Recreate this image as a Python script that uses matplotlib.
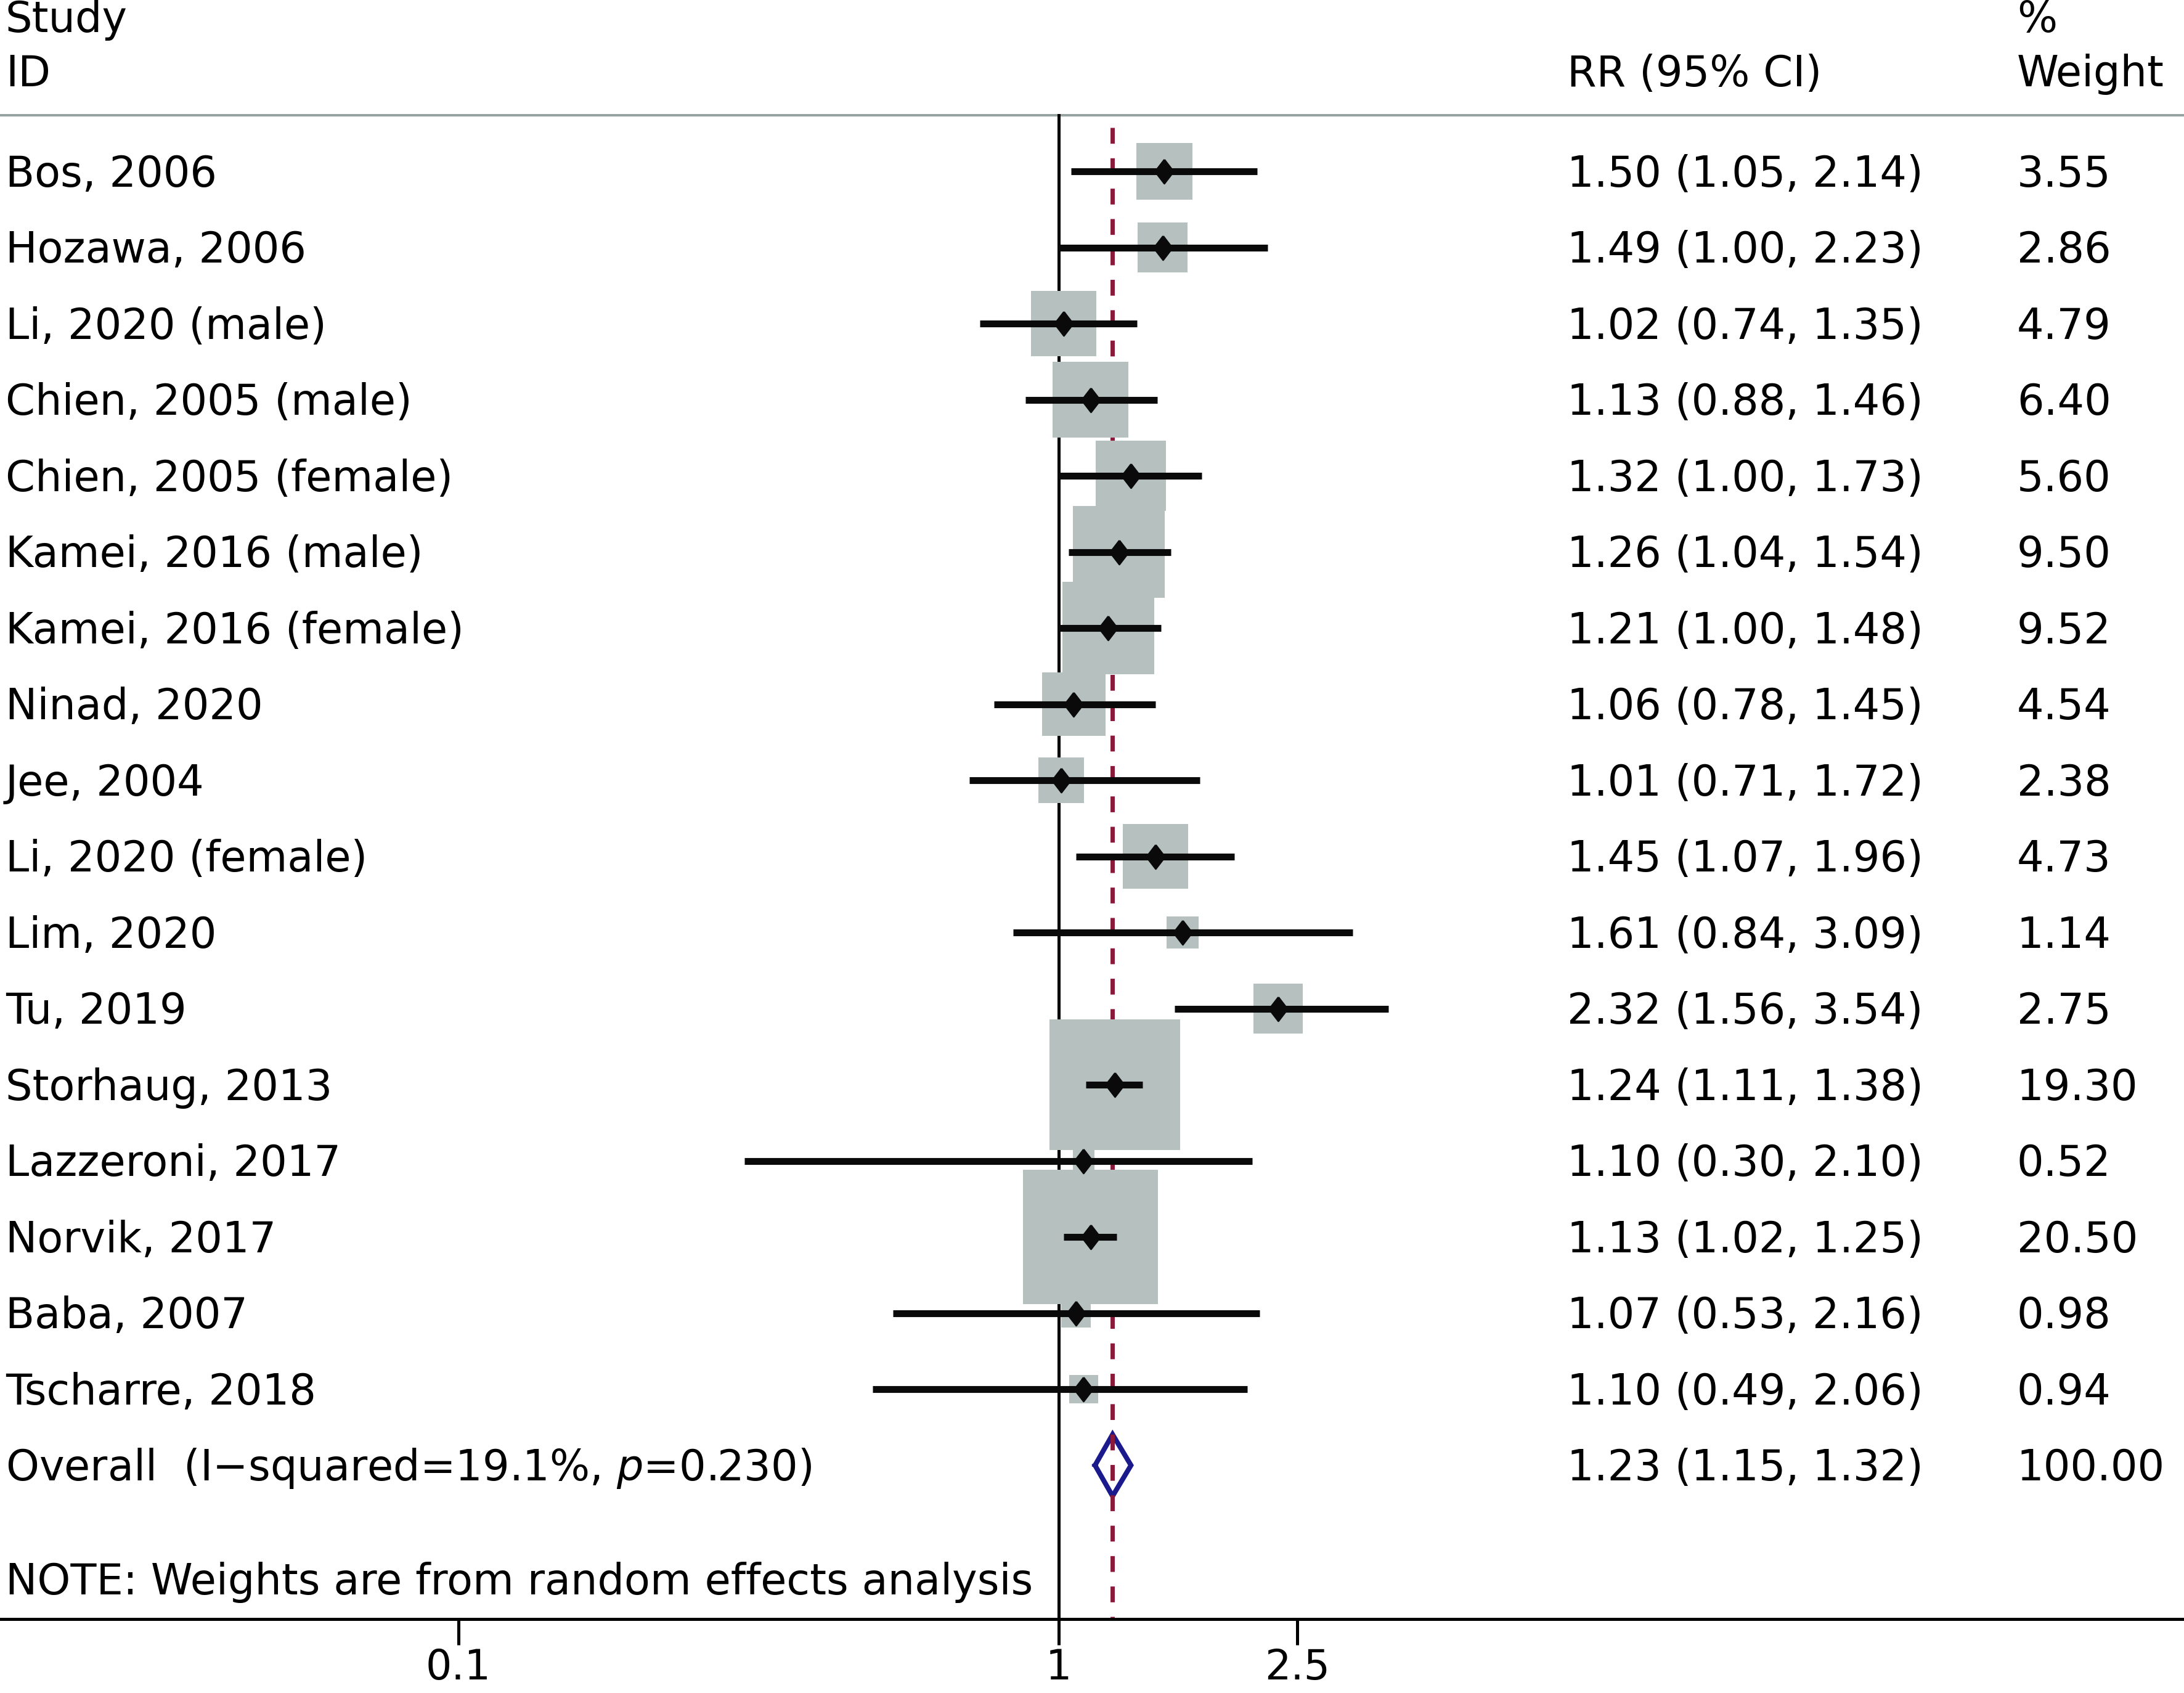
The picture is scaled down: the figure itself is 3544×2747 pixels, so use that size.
import matplotlib
matplotlib.use("Agg")
import matplotlib.pyplot as plt
from matplotlib.transforms import blended_transform_factory

plt.rcParams['font.family'] = ['DejaVu Sans']
plt.rcParams['mathtext.fontset'] = 'dejavusans'

studies = ["Bos, 2006", "Hozawa, 2006", "Li, 2020 (male)", "Chien, 2005 (male)",
           "Chien, 2005 (female)", "Kamei, 2016 (male)", "Kamei, 2016 (female)",
           "Ninad, 2020", "Jee, 2004", "Li, 2020 (female)", "Lim, 2020", "Tu, 2019",
           "Storhaug, 2013", "Lazzeroni, 2017", "Norvik, 2017", "Baba, 2007",
           "Tscharre, 2018"]
rr = [1.50, 1.49, 1.02, 1.13, 1.32, 1.26, 1.21, 1.06, 1.01, 1.45, 1.61, 2.32,
      1.24, 1.10, 1.13, 1.07, 1.10]
ci_low = [1.05, 1.00, 0.74, 0.88, 1.00, 1.04, 1.00, 0.78, 0.71, 1.07, 0.84, 1.56,
          1.11, 0.30, 1.02, 0.53, 0.49]
ci_high = [2.14, 2.23, 1.35, 1.46, 1.73, 1.54, 1.48, 1.45, 1.72, 1.96, 3.09, 3.54,
           1.38, 2.10, 1.25, 2.16, 2.06]
weights = [3.55, 2.86, 4.79, 6.40, 5.60, 9.50, 9.52, 4.54, 2.38, 4.73, 1.14, 2.75,
           19.30, 0.52, 20.50, 0.98, 0.94]
overall = (1.23, 1.15, 1.32)
overall_label = "Overall  (I\u2212squared=19.1%, $p$=0.230)"
xticks = [0.1, 1, 2.5]
xtick_labels = ["0.1", "1", "2.5"]

FS = 24.7
fig = plt.figure(figsize=(17.72, 13.735), dpi=200)
ax = fig.add_axes([0, 0.04368, 1, 0.95632])
ax.set_xscale('log')
ax.set_xlim(0.01725, 74.9)
ax.set_ylim(19.02, -2.251)
for s in ['top', 'left', 'right']:
    ax.spines[s].set_visible(False)
ax.spines['bottom'].set_linewidth(1.8)
ax.set_yticks([])
ax.set_xticks(xticks)
ax.set_xticklabels(xtick_labels)
ax.xaxis.set_minor_locator(matplotlib.ticker.NullLocator())
ax.tick_params(axis='x', length=15, width=1.8, pad=1.5, labelsize=24)

n = len(studies)
rows = list(range(n))
orow = n

# header rule and reference lines
ax.axhline(-0.737, color='#97a3a0', lw=1.45, zorder=1)
ax.plot([1, 1], [-0.737, 19.02], color='black', lw=1.8, zorder=1)
ax.plot([overall[0], overall[0]], [-0.575, 19.02], color='#8b1a3a', lw=2.5,
        dashes=(3.7, 3.4), zorder=1.5)

# weight boxes
ax.scatter(rr, rows, s=[302.8 * w for w in weights], marker='s',
           color='#b5c0bf', linewidths=0, zorder=2)
# confidence intervals
ax.hlines(rows, ci_low, ci_high, color='#0a0a0a', lw=4.0, zorder=3)
diamond = [(0, 1), (0.77, 0), (0, -1), (-0.77, 0), (0, 1)]
ax.plot(rr, rows, linestyle='none', marker=diamond, markersize=14,
        color='#0a0a0a', zorder=4)

# overall diamond
h = 0.405
ax.plot([overall[1], overall[0], overall[2], overall[0], overall[1]],
        [orow, orow - h, orow, orow + h, orow],
        color='#1a1a8c', lw=2.9, solid_joinstyle='miter', zorder=1.2)

# text columns
tr = blended_transform_factory(ax.transAxes, ax.transData)
x_name, x_rr, x_w = 0.0025, 0.7176, 0.9235
off = 0.20
ax.text(x_name, -1.83, "Study", transform=tr, fontsize=FS, va='baseline')
ax.text(x_name, -1.117, "ID", transform=tr, fontsize=FS, va='baseline')
ax.text(x_rr, -1.117, "RR (95% CI)", transform=tr, fontsize=FS, va='baseline')
ax.text(x_w, -1.83, "%", transform=tr, fontsize=FS, va='baseline')
ax.text(x_w, -1.117, "Weight", transform=tr, fontsize=FS, va='baseline')

for i in rows:
    ax.text(x_name, i + off, studies[i], transform=tr, fontsize=FS, va='baseline')
    ax.text(x_rr, i + off, "%.2f (%.2f, %.2f)" % (rr[i], ci_low[i], ci_high[i]),
            transform=tr, fontsize=FS, va='baseline')
    ax.text(x_w, i + off, "%.2f" % weights[i], transform=tr, fontsize=FS,
            va='baseline')

ax.text(x_name, orow + off, overall_label, transform=tr, fontsize=FS, va='baseline')
ax.text(x_rr, orow + off, "%.2f (%.2f, %.2f)" % overall, transform=tr,
        fontsize=FS, va='baseline')
ax.text(x_w, orow + off, "%.2f" % sum(weights), transform=tr, fontsize=FS,
        va='baseline')
ax.text(x_name, 18.70, "NOTE: Weights are from random effects analysis",
        transform=tr, fontsize=FS, va='baseline')

fig.savefig("out.png", dpi=200)
